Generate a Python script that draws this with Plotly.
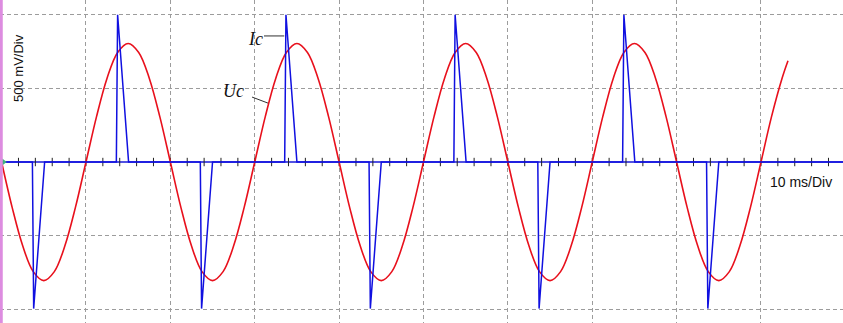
import plotly.graph_objects as go

uc_t = [0, 1.25, 2.5, 3.75, 5, 6.25, 7.5, 8.75, 10, 11.25, 12.5, 13.75, 15, 16.25, 17.5, 18.75,
        20, 21.25, 22.5, 23.75, 25, 26.25, 27.5, 28.75, 30, 31.25, 32.5, 33.75, 35, 36.25, 37.5, 38.75,
        40, 41.25, 42.5, 43.75, 45, 46.25, 47.5, 48.75, 50, 51.25, 52.5, 53.75, 55, 56.25, 57.5, 58.75,
        60, 61.25, 62.5, 63.75, 65, 66.25, 67.5, 68.75, 70, 71.25, 72.5, 73.75, 75, 76.25, 77.5, 78.75,
        80, 81.25, 82.5, 83.75, 85, 86.25, 87.5, 88.75, 90, 91.25, 92.5, 93.2]
uc_v = [0, -308, -569, -744, -805, -744, -569, -308, 0, 308, 569, 744, 805, 744, 569, 308,
        0, -308, -569, -744, -805, -744, -569, -308, 0, 308, 569, 744, 805, 744, 569, 308,
        0, -308, -569, -744, -805, -744, -569, -308, 0, 308, 569, 744, 805, 744, 569, 308,
        0, -308, -569, -744, -805, -744, -569, -308, 0, 308, 569, 744, 805, 744, 569, 308,
        0, -308, -569, -744, -805, -744, -569, -308, 0, 308, 569, 688]

# Ic (blue) pulses, time in ms, value in mV
ic_t = [0, 3.65, 3.8, 5.1, 13.6, 13.75, 15.05, 23.55, 23.7, 25.0, 33.55, 33.7, 35.0,
        43.55, 43.7, 45.0, 53.6, 53.75, 55.05, 63.55, 63.7, 65.0, 73.6, 73.75, 75.05,
        83.55, 83.7, 85.0, 99.8]
ic_v = [0, 0, -995, 0, 0, 1000, 0, 0, -995, 0, 0, 1000, 0,
        0, -995, 0, 0, 1000, 0, 0, -995, 0, 0, 1000, 0,
        0, -995, 0, 0]

grid_x = [10, 20, 30, 40, 50, 60, 70, 80, 90]
grid_y = [-1000, -500, 500, 1000]
minor_ticks = [2 * k for k in range(1, 50)]

X_RANGE = [-0.19, 99.72]
Y_RANGE = [-1093, 1100]

fig = go.Figure()

fig.add_trace(go.Scatter(x=[X_RANGE[0], X_RANGE[1]], y=[0, 0], mode="lines",
                         line=dict(color="#1818d8", width=1.5), hoverinfo="skip"))
fig.add_trace(go.Scatter(x=minor_ticks, y=[0] * len(minor_ticks), mode="markers",
                         marker=dict(symbol="line-ns", size=6,
                                     line=dict(color="#202020", width=1)),
                         hoverinfo="skip"))
fig.add_trace(go.Scatter(x=uc_t, y=uc_v, mode="lines", name="Uc",
                         line=dict(color="#e8101c", width=1.6, shape="spline")))
fig.add_trace(go.Scatter(x=ic_t, y=ic_v, mode="lines", name="Ic",
                         line=dict(color="#1010e0", width=1.5)))
fig.add_trace(go.Scatter(x=[0.25], y=[0], mode="markers",
                         marker=dict(symbol="triangle-right", size=6, color="#40b080"),
                         hoverinfo="skip"))

axis_common = dict(showticklabels=False, ticks="", zeroline=False, showline=False,
                   gridcolor="#9c9c9c", gridwidth=1, griddash="4px,3px")
fig.update_xaxes(range=X_RANGE, tickmode="array", tickvals=grid_x, **axis_common)
fig.update_yaxes(range=Y_RANGE, tickmode="array", tickvals=grid_y, **axis_common)

# left channel bar
fig.add_shape(type="line", xref="paper", yref="paper", x0=0.0015, x1=0.0015, y0=0, y1=1,
              line=dict(color="#dd8ce0", width=3))

# leader lines
fig.add_shape(type="line", x0=31.1, x1=33.5, y0=856, y1=856,
              line=dict(color="#303030", width=1))
fig.add_shape(type="line", x0=29.68, x1=31.57, y0=441, y1=400,
              line=dict(color="#303030", width=1))

fig.add_annotation(x=30.1, y=835, text="<i>Ic</i>", showarrow=False,
                   xanchor="center", yanchor="middle",
                   font=dict(family="Liberation Serif", size=18, color="#111111"))
fig.add_annotation(x=27.5, y=482, text="<i>Uc</i>", showarrow=False,
                   xanchor="center", yanchor="middle",
                   font=dict(family="Liberation Serif", size=18, color="#111111"))
fig.add_annotation(xref="paper", yref="paper", x=18 / 843, y=1 - 68 / 323,
                   xanchor="center", yanchor="middle",
                   text="500 mV/Div", textangle=-90, showarrow=False,
                   font=dict(family="Liberation Sans", size=13, color="#111111"))
fig.add_annotation(xref="paper", yref="paper", x=801 / 843, y=1 - 182 / 323,
                   xanchor="center", yanchor="middle",
                   text="10 ms/Div", showarrow=False,
                   font=dict(family="Liberation Sans", size=14, color="#111111"))

fig.update_layout(width=843, height=323, margin=dict(l=0, r=0, t=0, b=0),
                  plot_bgcolor="white", paper_bgcolor="white", showlegend=False)

fig.write_html("out.html", config={"displayModeBar": False},
               post_script="document.body.style.margin='0';document.body.style.padding='0';")
